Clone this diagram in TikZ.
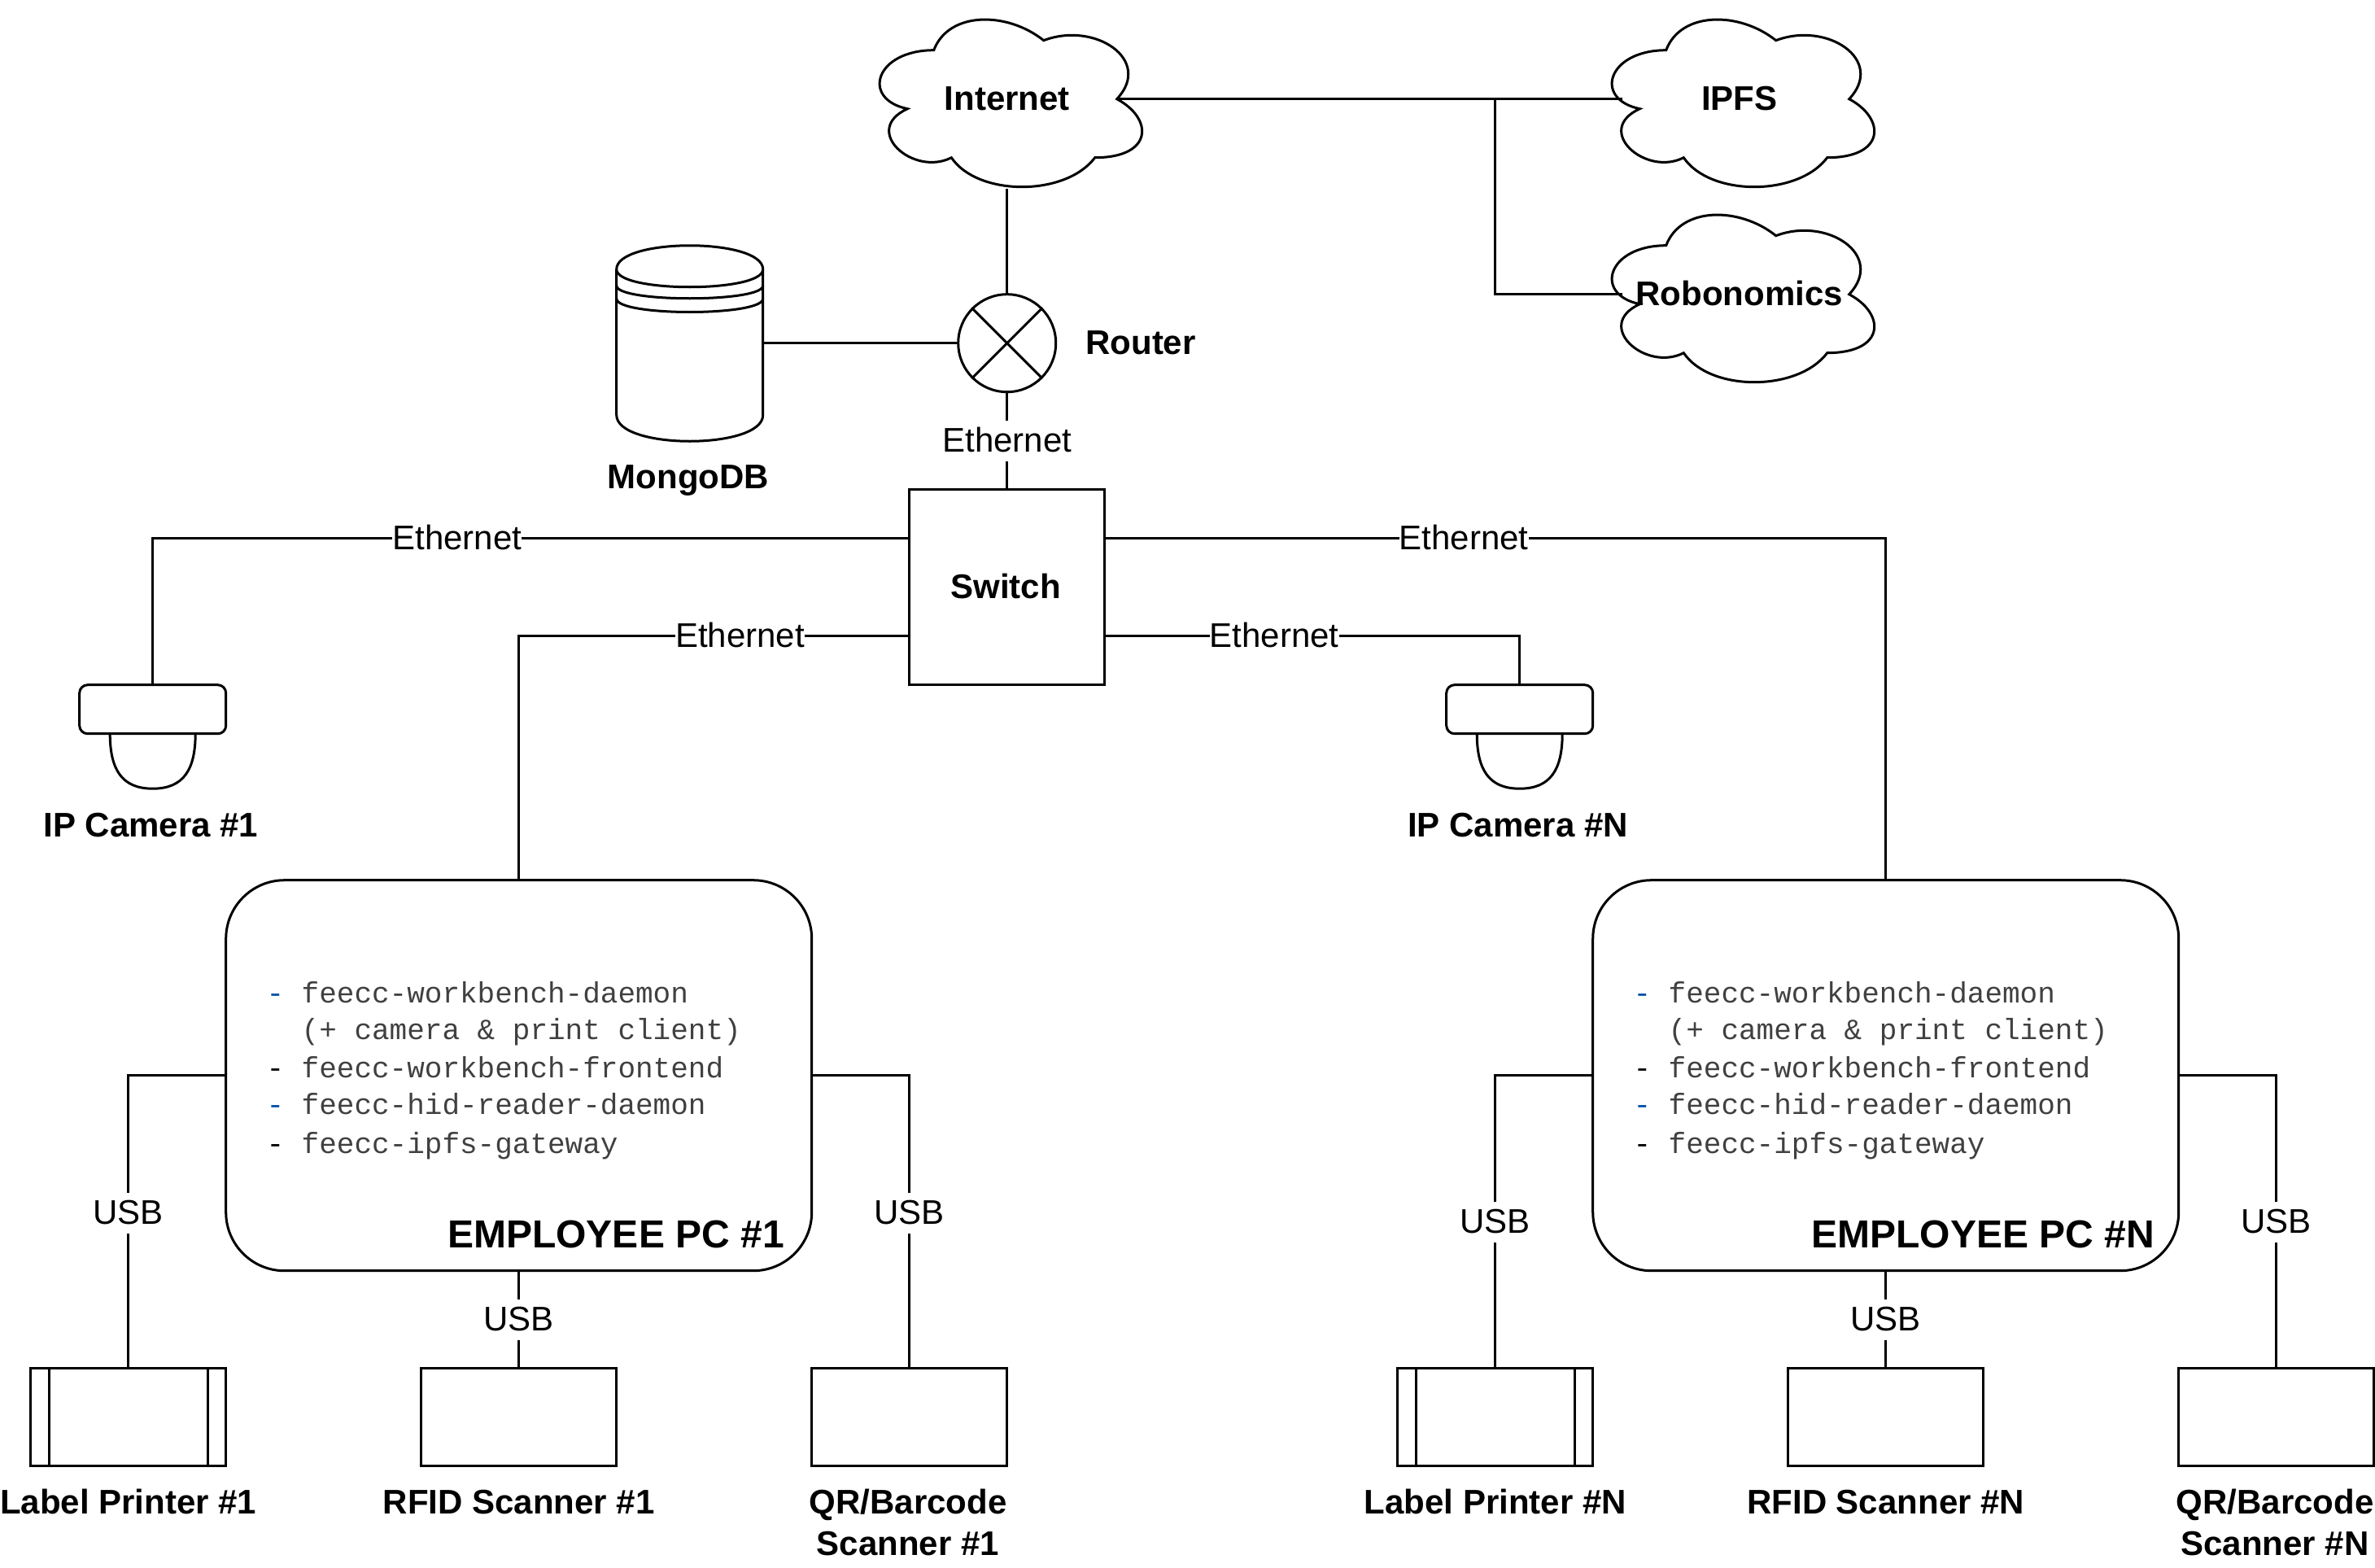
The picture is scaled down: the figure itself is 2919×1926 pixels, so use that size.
\documentclass[tikz,border=0pt]{standalone}
\usepackage{fontspec}
\setmainfont{Liberation Sans}
\newfontfamily\pcmono{Liberation Mono}
\definecolor{dashblue}{HTML}{0050A8}
\definecolor{monotext}{HTML}{404040}
\tikzset{
  every path/.style={line width=0.75pt},
  txtbox/.style={inner sep=0pt,text height=9.7pt,text depth=2.8pt,font=\fontsize{10.5}{12.75}\selectfont},
  boldlab/.style={txtbox,font=\bfseries\fontsize{10.5}{12.75}\selectfont},
  freelab/.style={inner sep=0pt,align=center,anchor=base,font=\bfseries\fontsize{10.5}{12.75}\selectfont},
  linelab/.style={txtbox,fill=white},
  cloudnode/.style={boldlab,minimum height=54.15pt,minimum width=#1},
  sqbox/.style={draw,inner sep=0pt,minimum width=60pt,minimum height=60pt},
  devbox/.style={draw,inner sep=0pt,minimum width=60pt,minimum height=30pt},
  cambox/.style={draw,inner sep=0pt,rounded corners=2.5pt,minimum width=45pt,minimum height=15pt},
  routerc/.style={draw,circle,inner sep=0pt,minimum size=30pt},
  dbbox/.style={inner sep=0pt,minimum width=45pt,minimum height=60pt},
  pcbody/.style={draw,rounded corners=18pt,inner sep=0pt,minimum width=180pt,minimum height=120pt},
  pclist/.style={inner sep=0pt,anchor=base west,align=left,text=monotext,font=\pcmono\fontsize{9}{11.25}\selectfont},
  pctitle/.style={inner sep=0pt,anchor=base,font=\bfseries\fontsize{12}{14}\selectfont}
}
% name, centre x, centre y, text, half-box width
\newcommand{\cloudat}[5]{%
  \begin{scope}[shift={(#2-180,#3-120)},x=90pt,y=-60pt]
    \draw (0.25,0.25) .. controls (0.05,0.25) and (0,0.5) .. (0.16,0.55)
      .. controls (0,0.66) and (0.18,0.9) .. (0.31,0.8)
      .. controls (0.4,1) and (0.7,1) .. (0.8,0.8)
      .. controls (1,0.8) and (1,0.6) .. (0.875,0.5)
      .. controls (1,0.3) and (0.8,0.1) .. (0.625,0.2)
      .. controls (0.5,0.05) and (0.3,0.05) .. (0.25,0.25) -- cycle;
  \end{scope}
  \node[cloudnode=#5] (#1) at (#2,#3) {#4};
}
% name, centre x, label text, label centre x
\newcommand{\camerabox}[4]{%
  \begin{scope}[shift={(#2,901.7)}]
    \draw (-52.5,0) .. controls (-52.5,44) and (-38,67.5) .. (0,67.5)
      .. controls (38,67.5) and (52.5,44) .. (52.5,0);
  \end{scope}
  \node[cambox,fill=white] (#1) at (#2,871.7) {};
  \node[freelab] (#1lab) at (#4,1028) {#3};
}
% suffix, x offset, label suffix
\newcommand{\pcgroup}[3]{%
  \begin{scope}[shift={(#2,0)}]
    \node[pcbody] (pc#1) at (637.7,1321.7) {};
    \node[pclist] (list#1) at (326,1417) {%
      \textcolor{dashblue}{-}\ feecc-workbench-daemon\\[0pt]
      \ \ (+ camera \& print client)\\[0.5pt]
      \textcolor{black}{-}\ feecc-workbench-frontend\\[0pt]
      \textcolor{dashblue}{-}\ feecc-hid-reader-daemon\\[0.75pt]
      \textcolor{black}{-}\ feecc-ipfs-gateway};
    \node[pctitle] (title#1) at (757,1533) {EMPLOYEE PC \##3};
    \node[devbox] (lp#1) at (157.7,1741.7) {};
    \draw ([xshift=6pt]lp#1.north west) -- ([xshift=6pt]lp#1.south west);
    \draw ([xshift=-6pt]lp#1.north east) -- ([xshift=-6pt]lp#1.south east);
    \node[devbox] (rfid#1) at (637.7,1741.7) {};
    \node[devbox] (qr#1) at (1117.7,1741.7) {};
    \node[freelab] (lplab#1) at (157.7,1860) {Label Printer \##3};
    \node[freelab] (rfidlab#1) at (637.7,1860) {RFID Scanner \##3};
    \node[freelab] (qrlab#1) at (1116,1911) {QR/Barcode\\Scanner \##3};
  \end{scope}
}
\begin{document}
\begin{tikzpicture}[x=0.25pt,y=-0.25pt]
\useasboundingbox (0,0) rectangle (2919,1926);
% clouds
\cloudat{internet}{1237.7}{121.7}{Internet}{68pt}
\cloudat{ipfs}{2137.7}{121.7}{IPFS}{71pt}
\cloudat{robo}{2137.7}{361.7}{Robonomics}{71pt}
\coordinate (branch) at (1837,121.7);
% router, database, switch
\node[routerc] (router) at (1237.7,421.7) {};
\draw (router.45) -- (router.225);
\draw (router.135) -- (router.315);
\node[boldlab,anchor=center] (routerlab) at (1402,421.7) {Router};
\node[dbbox] (mongo) at (847.7,421.7) {};
\begin{scope}[shift={(757.7,0)}]
  \draw (0,331) .. controls (0,292) and (180,292) .. (180,331) -- (180,510)
    .. controls (180,553) and (0,553) .. (0,510) -- cycle;
  \draw (0,331) .. controls (0,360) and (180,360) .. (180,331);
  \draw (0,351) .. controls (0,372) and (180,372) .. (180,351);
  \draw (0,367) .. controls (0,389) and (180,389) .. (180,367);
\end{scope}
\node[freelab] (mongolab) at (846,600.5) {MongoDB};
\node[sqbox] (switch) at (1237.7,721.7) {};
\node[boldlab] (switchlab) at (1236,721.7) {Switch};
% cameras
\camerabox{cam1}{187.7}{IP Camera \#1}{185.5}
\camerabox{camN}{1867.7}{IP Camera \#N}{1865.5}
% employee PCs and peripherals
\pcgroup{A}{0}{1}
\pcgroup{B}{1680}{N}
% connectors
\draw (internet.south) -- (router.north);
\draw (internet.east) -- (ipfs.west);
\draw (branch) |- (robo.west);
\draw (mongo.east) -- (router.west);
\draw (router.south) -- node[linelab,pos=0.5] (eth0) {Ethernet} (switch.north);
\draw ([yshift=15pt]switch.west) -| node[linelab,pos=0.2986] (eth1) {Ethernet} (cam1.north);
\draw ([yshift=-15pt]switch.west) -| node[linelab,pos=0.216] (eth2) {Ethernet} (pcA.north);
\draw ([yshift=15pt]switch.east) -| node[linelab,pos=0.2295] (eth3) {Ethernet} (pcB.north);
\draw ([yshift=-15pt]switch.east) -| node[linelab,pos=0.2036] (eth4) {Ethernet} (camN.north);
\draw (pcA.west) -| node[linelab,pos=0.7355] (usb1) {USB} (lpA.north);
\draw (pcA.south) -- node[linelab,pos=0.5] (usb2) {USB} (rfidA.north);
\draw (pcA.east) -| node[linelab,pos=0.7355] (usb3) {USB} (qrA.north);
\draw (pcB.west) -| node[linelab,pos=0.7512] (usb4) {USB} (lpB.north);
\draw (pcB.south) -- node[linelab,pos=0.5] (usb5) {USB} (rfidB.north);
\draw (pcB.east) -| node[linelab,pos=0.7512] (usb6) {USB} (qrB.north);
\end{tikzpicture}
\end{document}
